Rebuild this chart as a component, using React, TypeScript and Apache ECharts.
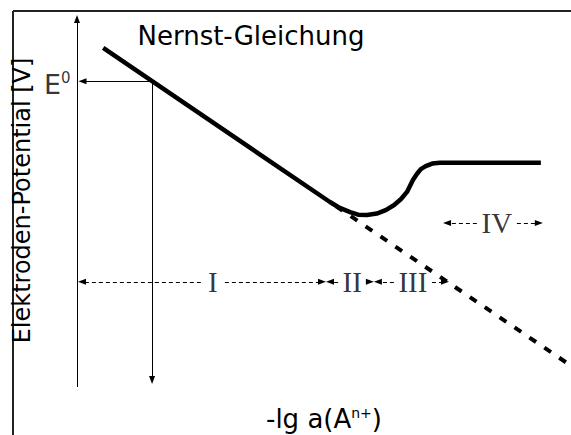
import React, { useEffect, useRef } from "react";
import * as echarts from "echarts";

// Measured electrode potential curve (x: -lg a, y: potential, arbitrary units)
const curveX = [0.53, 5.12, 5.32, 5.53, 5.69, 5.87, 6.07, 6.26, 6.42, 6.56, 6.68, 6.74, 6.8, 6.88, 6.96, 7.06, 7.19, 7.35, 9.39];
const curveY = [9.09, 4.96, 4.8, 4.69, 4.62, 4.61, 4.65, 4.75, 4.88, 5.04, 5.23, 5.39, 5.55, 5.71, 5.84, 5.92, 5.99, 6.01, 6.01];

// Extrapolated Nernst line (dashed)
const nernstX = [5.24, 10];
const nernstY = [4.85, 0.57];

// Standard potential E0 marker
const e0X = 1.52;
const e0Y = 8.2;
const e0TipX = 0.03;
const e0TipY = 0.08;
const e0TailY = -0.16;

// Potential axis arrow tip
const axisTipY = 9.97;

// Regions I - IV
const regionNames = ["I", "II", "III", "IV"];
const regionLabelX = [2.75, 5.57, 6.8, 8.5];
const regionRowY = [2.82, 2.82, 2.82, 4.4];
const regionFrom = [0.02, 5.04, 6.01, 7.41];
const regionTo = [5.04, 6.01, 7.53, 9.43];

const X_RANGE = [0, 10];
const Y_RANGE = [0, 10];

const SANS = "'DejaVu Sans', sans-serif";
const SERIF = "'Liberation Serif', serif";

export default function App() {
  const ref = useRef<HTMLDivElement>(null);
  useEffect(() => {
    document.body.style.margin = "0";
    document.body.style.overflow = "hidden";
    if (!ref.current) return;
    const chart = echarts.init(ref.current, null, { renderer: "svg" });

    const grid = { left: 77, top: 14, width: 494, height: 373, containLabel: false, outerBoundsMode: "none" };
    const pxX = grid.width / (X_RANGE[1] - X_RANGE[0]);
    const pxY = grid.height / (Y_RANGE[1] - Y_RANGE[0]);
    const arrowLen = 8;
    const insetX = arrowLen / 2 / pxX;
    const insetY = arrowLen / 2 / pxY;
    const labelGapPx = [12, 14, 19, 20];

    const regionLines: any[] = [];
    regionNames.forEach((n, i) => {
      const y = regionRowY[i];
      const half = labelGapPx[i] / pxX;
      regionLines.push([
        { coord: [regionLabelX[i] - half, y], symbol: "none" },
        { coord: [regionFrom[i] + insetX, y], symbol: "triangle" },
      ]);
      regionLines.push([
        { coord: [regionLabelX[i] + half, y], symbol: "none" },
        { coord: [regionTo[i] - insetX, y], symbol: "triangle" },
      ]);
    });

    const guideLines: any[] = [
      [
        { coord: [X_RANGE[0], Y_RANGE[0]], symbol: "none" },
        { coord: [X_RANGE[0], axisTipY - insetY], symbol: "triangle" },
      ],
      [
        { coord: [e0X, e0Y], symbol: "none" },
        { coord: [e0TipX + insetX, e0Y], symbol: "triangle" },
      ],
      [
        { coord: [e0X, e0Y], symbol: "none" },
        { coord: [e0X, e0TipY + insetY], symbol: "triangle" },
      ],
      [
        { coord: [e0X, e0TipY + insetY], symbol: "none" },
        { coord: [e0X, e0TailY], symbol: "none" },
      ],
    ];

    const option: any = {
      animation: false,
      grid,
      xAxis: {
        type: "value",
        min: X_RANGE[0],
        max: X_RANGE[1],
        axisLine: { show: false },
        axisTick: { show: false },
        axisLabel: { show: false },
        splitLine: { show: false },
        name: "-lg a(A{sup|n+})",
        nameLocation: "middle",
        nameGap: 19,
        nameTextStyle: {
          fontFamily: SANS,
          fontSize: 26,
          color: "#000",
          rich: { sup: { fontFamily: SANS, fontSize: 14, color: "#000", verticalAlign: "top" } },
        },
      },
      yAxis: {
        type: "value",
        min: Y_RANGE[0],
        max: Y_RANGE[1],
        axisLine: { show: false },
        axisTick: { show: false },
        axisLabel: { show: false },
        splitLine: { show: false },
        name: "Elektroden-Potential [V]",
        nameLocation: "middle",
        nameGap: 43,
        nameTextStyle: { fontFamily: SANS, fontSize: 24, color: "#000" },
      },
      graphic: [
        { type: "line", shape: { x1: 13, y1: 11, x2: 571, y2: 11 }, style: { stroke: "#222", lineWidth: 2 } },
        { type: "line", shape: { x1: 13, y1: 11, x2: 13, y2: 435 }, style: { stroke: "#222", lineWidth: 2 } },
        {
          type: "text",
          x: 251,
          y: 36,
          style: {
            text: "Nernst-Gleichung",
            fontFamily: SANS,
            fontSize: 26,
            fill: "#000",
            align: "center",
            verticalAlign: "middle",
          },
        },
      ],
      series: [
        {
          name: "Potential",
          type: "line",
          data: curveX.map((x, i) => [x, curveY[i]]),
          symbol: "none",
          clip: false,
          lineStyle: { color: "#000", width: 4.5, join: "round" },
        },
        {
          name: "Nernst",
          type: "line",
          data: nernstX.map((x, i) => [x, nernstY[i]]),
          symbol: "none",
          clip: false,
          lineStyle: { color: "#000", width: 4, type: [8, 10] },
        },
        {
          name: "E0",
          type: "scatter",
          data: [[X_RANGE[0], e0Y]],
          symbolSize: 1,
          clip: false,
          itemStyle: { color: "rgba(0,0,0,0)" },
          label: {
            show: true,
            position: "left",
            distance: 6,
            offset: [0, 3],
            formatter: "E{sup|0}",
            fontFamily: SANS,
            fontSize: 27,
            color: "#000",
            rich: { sup: { fontFamily: SANS, fontSize: 15, color: "#000", verticalAlign: "top" } },
          },
          markLine: {
            silent: true,
            symbolSize: [6, 8],
            label: { show: false },
            lineStyle: { color: "#000", width: 1, type: "solid" },
            data: guideLines,
          },
        },
        {
          name: "Regions",
          type: "scatter",
          data: regionNames.map((n, i) => ({ name: n, value: [regionLabelX[i], regionRowY[i]] })),
          symbolSize: 1,
          clip: false,
          itemStyle: { color: "rgba(0,0,0,0)" },
          label: {
            show: true,
            position: "inside",
            formatter: "{b}",
            fontFamily: SERIF,
            fontSize: 29,
            color: "#000",
          },
          markLine: {
            silent: true,
            symbolSize: [6, 8],
            label: { show: false },
            lineStyle: { color: "#000", width: 1, type: [4, 3] },
            data: regionLines,
          },
        },
      ],
    };
    chart.setOption(option);
    return () => chart.dispose();
  }, []);
  return <div ref={ref} style={{ width: 571, height: 435, overflow: "hidden" }} />;
}
